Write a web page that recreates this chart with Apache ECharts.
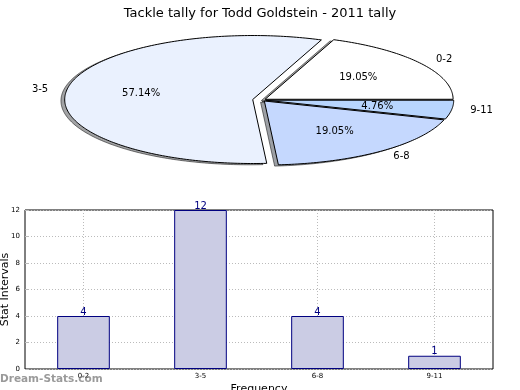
<!DOCTYPE html>
<html>
<head>
<meta charset="utf-8">
<script src="https://cdn.jsdelivr.net/npm/echarts@6/dist/echarts.min.js"></script>
<style>
html,body{margin:0;padding:0;background:#fff;}
#chart{width:520px;height:390px;}
</style>
</head>
<body>
<div id="chart"></div>
<script>
// ---- Data ----
const titleText = 'Tackle tally for Todd Goldstein - 2011 tally';
const categories = ['0-2', '3-5', '6-8', '9-11'];
const tallies = [4, 12, 4, 1];
const yTicks = [0, 2, 4, 6, 8, 10, 12];
const yAxisName = 'Stat Intervals';
const xAxisName = 'Frequency';
const watermark = 'Dream-Stats.com';

// ---- Styles ----
const sliceColors = ['#ffffff', '#eaf1fe', '#c5d8fe', '#b8d5fd'];
const explode = [0.02, 0.05, 0.02, 0.02];
const FONT = 'DejaVu Sans';

const total = tallies.reduce((a, b) => a + b, 0);
function sliceGeom(i) {
  let start = 0;
  for (let j = 0; j < i; j++) start += tallies[j];
  const t1 = start / total * Math.PI * 2;
  const t2 = (start + tallies[i]) / total * Math.PI * 2;
  const mid = (t1 + t2) / 2;
  return { t1, t2, mid, cx: explode[i] * Math.cos(mid), cy: explode[i] * Math.sin(mid) };
}
function wedgePts(api, g, ox, oy) {
  const pts = [api.coord([g.cx + ox, g.cy + oy])];
  const n = Math.max(2, Math.ceil((g.t2 - g.t1) / (Math.PI / 180)));
  for (let k = 0; k <= n; k++) {
    const th = g.t1 + (g.t2 - g.t1) * k / n;
    pts.push(api.coord([g.cx + ox + Math.cos(th), g.cy + oy + Math.sin(th)]));
  }
  return pts;
}
function shade(hex) {
  const r = parseInt(hex.slice(1, 3), 16), g = parseInt(hex.slice(3, 5), 16), b = parseInt(hex.slice(5, 7), 16);
  return 'rgba(' + Math.round(r * 0.3) + ',' + Math.round(g * 0.3) + ',' + Math.round(b * 0.3) + ',0.5)';
}

const pieData = tallies.map((v, i) => [i, v]);

const option = {
  animation: false,
  backgroundColor: '#ffffff',
  title: {
    text: titleText, left: 'center', top: 2,
    textStyle: { fontFamily: FONT, fontSize: 13, fontWeight: 'normal', color: '#000' }
  },
  grid: [
    { left: 74, width: 376, top: 36, height: 128, show: false, containLabel: false, outerBoundsMode: 'none' },
    { left: 25, width: 468, top: 210, height: 159, show: true, borderColor: '#000', borderWidth: 1,
      backgroundColor: 'transparent', containLabel: false, outerBoundsMode: 'none' }
  ],
  xAxis: [
    { gridIndex: 0, type: 'value', min: -1, max: 1, show: false },
    {
      gridIndex: 1, type: 'category', data: categories,
      name: xAxisName, nameLocation: 'middle', nameGap: 15, nameMoveOverlap: false,
      nameTextStyle: { fontFamily: FONT, fontSize: 11, color: '#000' },
      axisLine: { show: false },
      axisTick: { show: true, inside: true, alignWithLabel: true, length: 3, lineStyle: { color: '#bbb' } },
      axisLabel: { fontFamily: FONT, fontSize: 7, color: '#000', margin: 4 },
      splitLine: { show: true, alignWithLabel: true, lineStyle: { color: '#bbb', type: [1, 2], width: 1 } }
    }
  ],
  yAxis: [
    { gridIndex: 0, type: 'value', min: -1, max: 1, show: false },
    {
      gridIndex: 1, type: 'value', min: yTicks[0], max: yTicks[yTicks.length - 1], interval: 2,
      name: yAxisName, nameLocation: 'middle', nameGap: 14, nameMoveOverlap: false,
      nameTextStyle: { fontFamily: FONT, fontSize: 11, color: '#000' },
      axisLine: { show: false },
      axisTick: { show: true, inside: true, length: 3, lineStyle: { color: '#bbb' } },
      axisLabel: { fontFamily: FONT, fontSize: 7, color: '#000', margin: 5 },
      splitLine: { show: true, lineStyle: { color: '#bbb', type: [1, 2], width: 1 } }
    }
  ],
  series: [
    {
      type: 'custom', coordinateSystem: 'cartesian2d', xAxisIndex: 0, yAxisIndex: 0,
      clip: false, z: 1, data: pieData,
      renderItem: function (params, api) {
        const i = params.dataIndex;
        const g = sliceGeom(i);
        return {
          type: 'polygon',
          shape: { points: wedgePts(api, g, -0.02, -0.02) },
          style: { fill: shade(sliceColors[i]), stroke: shade('#000000'), lineWidth: 1 }
        };
      }
    },
    {
      type: 'custom', coordinateSystem: 'cartesian2d', xAxisIndex: 0, yAxisIndex: 0,
      clip: false, z: 2, data: pieData,
      renderItem: function (params, api) {
        const i = params.dataIndex;
        const g = sliceGeom(i);
        const lx = g.cx + 1.1 * Math.cos(g.mid), ly = g.cy + 1.1 * Math.sin(g.mid);
        const px = g.cx + 0.6 * Math.cos(g.mid), py = g.cy + 0.6 * Math.sin(g.mid);
        const lp = api.coord([lx, ly]), pp = api.coord([px, py]);
        const pct = (tallies[i] / total * 100).toFixed(2) + '%';
        return {
          type: 'group',
          children: [
            {
              type: 'polygon',
              shape: { points: wedgePts(api, g, 0, 0) },
              style: { fill: sliceColors[i], stroke: '#000', lineWidth: 1 }
            },
            {
              type: 'text', z2: 10,
              style: {
                text: categories[i], x: lp[0], y: lp[1],
                align: lx > 0 ? 'left' : 'right', verticalAlign: 'middle',
                font: '10px "DejaVu Sans"', fill: '#000'
              }
            },
            {
              type: 'text', z2: 10,
              style: {
                text: pct, x: pp[0], y: pp[1],
                align: 'center', verticalAlign: 'middle',
                font: '10px "DejaVu Sans"', fill: '#000'
              }
            }
          ]
        };
      }
    },
    {
      type: 'bar', xAxisIndex: 1, yAxisIndex: 1, data: tallies,
      barWidth: '45%',
      itemStyle: { color: '#cbcce4', borderColor: '#000080', borderWidth: 1 },
      label: {
        show: true, position: 'top', distance: -1,
        fontFamily: FONT, fontSize: 10, color: '#000080'
      },
      z: 3
    }
  ],
  graphic: [
    {
      type: 'text', left: 0, top: 374, z: 100,
      style: { text: watermark, font: 'bold 10.5px "DejaVu Sans"', fill: 'rgba(120,120,120,0.75)' }
    }
  ]
};

const chart = echarts.init(document.getElementById('chart'), null, { renderer: 'canvas' });
chart.setOption(option);
</script>
</body>
</html>
